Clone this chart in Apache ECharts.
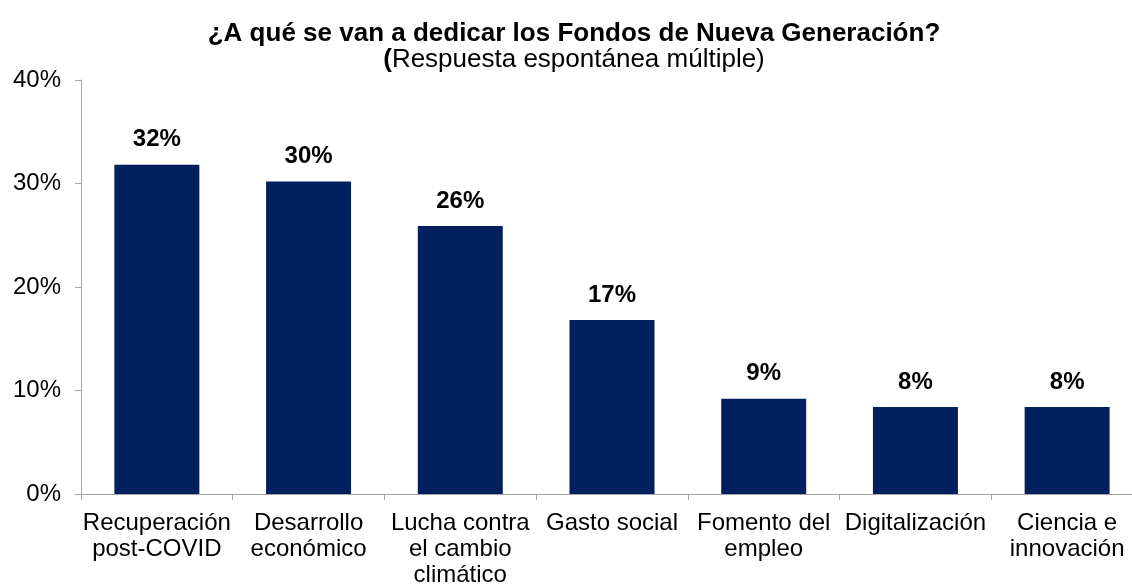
<!DOCTYPE html>
<html>
<head>
<meta charset="utf-8">
<script src="https://cdn.jsdelivr.net/npm/echarts@6/dist/echarts.min.js"></script>
<style>
  html, body { margin: 0; padding: 0; background: #fff; overflow: hidden; }
  /* el eje x sigue un poco más allá del borde derecho */
  #chart { width: 1150px; height: 585px; }
</style>
</head>
<body>
<div id="chart"></div>
<script>
// categorías y valores (%)
var categories = [
    'Recuperación\npost-COVID',
    'Desarrollo\neconómico',
    'Lucha contra\nel cambio\nclimático',
    'Gasto social',
    'Fomento del\nempleo',
    'Digitalización',
    'Ciencia e\ninnovación'
];
var values = [31.8, 30.2, 25.9, 16.8, 9.2, 8.4, 8.4];
var valueLabels = ['32%', '30%', '26%', '17%', '9%', '8%', '8%'];

var font = 'Liberation Sans, Arial, sans-serif';

var option = {
    animation: false,
    title: {
        text: '¿A qué se van a dedicar los Fondos de Nueva Generación?',
        subtext: '{b|(}Respuesta espontánea múltiple)',
        left: 569,
        textAlign: 'center',
        top: 16,
        itemGap: 0,
        textStyle: {
            fontFamily: font,
            fontSize: 26,
            fontWeight: 'bold',
            color: '#000'
        },
        subtextStyle: {
            fontFamily: font,
            fontSize: 26,
            color: '#000',
            rich: {
                b: { fontFamily: font, fontSize: 26, fontWeight: 'bold', color: '#000' }
            }
        }
    },
    grid: {
        left: 81,
        right: 7,
        top: 80,
        bottom: 91,
        outerBoundsMode: 'none',
        containLabel: false
    },
    xAxis: {
        type: 'category',
        data: categories,
        axisLine: { lineStyle: { color: '#a6a6a6', width: 1 } },
        axisTick: { show: true, length: 6, lineStyle: { color: '#a6a6a6' } },
        axisLabel: {
            interval: 0,
            margin: 16,
            fontFamily: font,
            fontSize: 24,
            color: '#000',
            lineHeight: 26
        }
    },
    yAxis: {
        type: 'value',
        min: 0,
        max: 40,
        interval: 10,
        splitLine: { show: false },
        axisLine: { show: true, lineStyle: { color: '#a6a6a6', width: 1 } },
        axisTick: { show: true, length: 6, lineStyle: { color: '#a6a6a6' } },
        axisLabel: {
            margin: 20,
            fontFamily: font,
            fontSize: 24,
            color: '#000',
            formatter: '{value}%'
        }
    },
    series: [{
        type: 'bar',
        data: values,
        barWidth: 85,
        itemStyle: { color: '#03205e' },
        label: {
            show: true,
            position: 'top',
            distance: 13,
            fontFamily: font,
            fontSize: 24,
            fontWeight: 'bold',
            color: '#000',
            formatter: function (p) { return valueLabels[p.dataIndex]; }
        }
    }]
};

var chart = echarts.init(document.getElementById('chart'));
chart.setOption(option);
</script>
</body>
</html>
